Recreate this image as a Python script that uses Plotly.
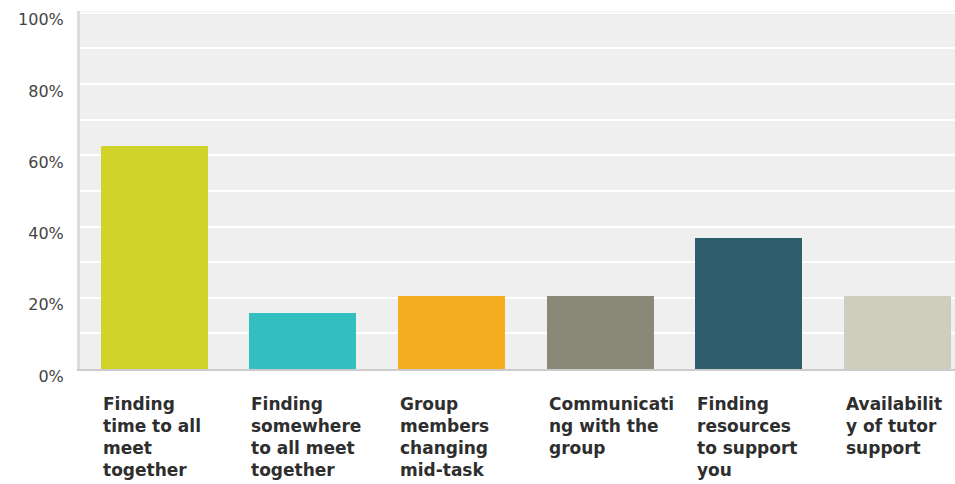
import plotly.graph_objects as go

categories = [
    "Finding<br>time to all<br>meet<br>together",
    "Finding<br>somewhere<br>to all meet<br>together",
    "Group<br>members<br>changing<br>mid-task",
    "Communicati<br>ng with the<br>group",
    "Finding<br>resources<br>to support<br>you",
    "Availabilit<br>y of tutor<br>support",
]
values = [0.627, 0.157, 0.206, 0.206, 0.367, 0.206]
colors = ["#d0d42a", "#33bec0", "#f6ae20", "#898979", "#2e5e6b", "#cfcdbd"]
tick_vals = [0, 0.2, 0.4, 0.6, 0.8, 1.0]
tick_text = ["0%", "20%", "40%", "60%", "80%", "100%"]

idx = list(range(len(categories)))
bar_w = 0.72

fig = go.Figure(go.Bar(
    x=idx, y=values, width=bar_w,
    marker=dict(color=colors, line=dict(width=0)),
    hoverinfo="skip",
))

for i, c in enumerate(categories):
    fig.add_annotation(
        x=i - bar_w / 2, xref="x", xanchor="left",
        y=-0.065, yref="paper", yanchor="top",
        text=c, showarrow=False, align="left",
        font=dict(family="DejaVu Sans", size=17, color="#2e2e2e", weight="bold"),
    )

fig.update_layout(
    width=955, height=484,
    margin=dict(l=80, r=0, t=11, b=115),
    paper_bgcolor="white", plot_bgcolor="#efefef",
    showlegend=False, bargap=0,
)
fig.update_xaxes(
    range=[-0.5, 5.388], showticklabels=False, showgrid=False, zeroline=False,
    showline=True, linecolor="#cccccc", linewidth=2, ticks="", fixedrange=True,
)
fig.update_yaxes(
    range=[0, 1.005], tickvals=tick_vals, ticktext=tick_text,
    tickfont=dict(family="DejaVu Sans", size=16, color="#444444"),
    showgrid=True, gridcolor="white", gridwidth=2,
    minor=dict(tickvals=[0.1, 0.3, 0.5, 0.7, 0.9], showgrid=True, gridcolor="white", gridwidth=2),
    zeroline=False, showline=True, linecolor="#dddddd", linewidth=3,
    ticks="", ticklabelstandoff=10, ticklabelshift=7, ticklabeloverflow="allow",
    fixedrange=True,
)
fig.write_html(
    "out.html",
    config={"displayModeBar": False},
    post_script="document.body.style.margin='0';document.body.style.overflow='hidden';",
)
